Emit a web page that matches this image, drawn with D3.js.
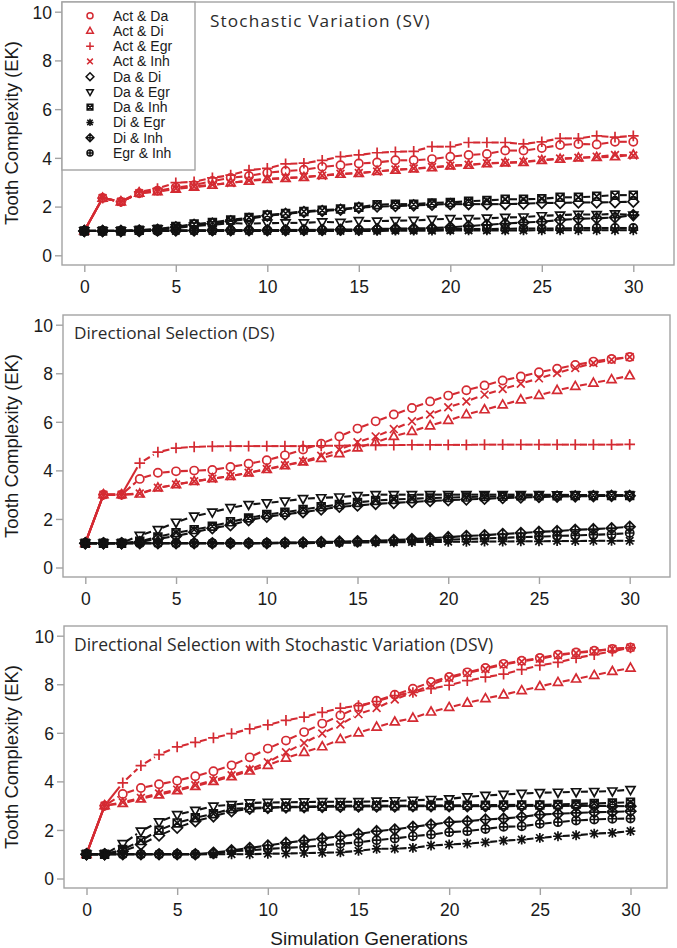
<!DOCTYPE html>
<html><head><meta charset="utf-8">
<script src="https://cdn.jsdelivr.net/npm/d3@7"></script>
<style>html,body{margin:0;padding:0;background:#fff;} svg{display:block;}</style>
</head><body>
<svg id="chart" width="677" height="948"></svg>
<script>
// ---------------- DATA ----------------
const generations = [0,1,2,3,4,5,6,7,8,9,10,11,12,13,14,15,16,17,18,19,20,21,22,23,24,25,26,27,28,29,30];
const seriesNames = ["Act & Da","Act & Di","Act & Egr","Act & Inh","Da & Di","Da & Egr","Da & Inh","Di & Egr","Di & Inh","Egr & Inh"];
const seriesSymbols = ["circle","triangle","plus","cross","diamond","triangleDown","squareX","asterisk","diamondPlus","circlePlus"];
const seriesGroup = ["red","red","red","red","black","black","black","black","black","black"];
const panelTitles = ["Stochastic Variation (SV)","Directional Selection (DS)","Directional Selection with Stochastic Variation (DSV)"];
const xTicks = [0,5,10,15,20,25,30];
const yTicks = [0,2,4,6,8,10];
const yAxisTitle = "Tooth Complexity (EK)";
const xAxisTitle = "Simulation Generations";

// Stochastic Variation (SV)
const sv_ActDa  = [1,2.35,2.2,2.55,2.65,2.78,2.88,3.05,3.18,3.26,3.39,3.46,3.51,3.63,3.70,3.77,3.81,3.9,3.9,3.95,4.05,4.12,4.16,4.3,4.3,4.4,4.53,4.57,4.55,4.66,4.66];
const sv_ActDi  = [1,2.35,2.2,2.55,2.62,2.72,2.8,2.88,2.98,3.05,3.12,3.16,3.2,3.28,3.33,3.37,3.45,3.5,3.55,3.6,3.67,3.7,3.77,3.8,3.82,3.9,3.95,4.0,4.02,4.05,4.12];
const sv_ActEgr = [1,2.35,2.2,2.6,2.74,2.98,3.02,3.18,3.29,3.5,3.57,3.75,3.78,3.9,4.05,4.12,4.21,4.25,4.27,4.46,4.46,4.63,4.63,4.63,4.57,4.66,4.8,4.8,4.9,4.85,4.9];
const sv_ActInh = [1,2.35,2.2,2.55,2.63,2.74,2.82,2.9,2.97,3.07,3.14,3.18,3.22,3.27,3.35,3.38,3.44,3.52,3.56,3.62,3.68,3.72,3.78,3.8,3.84,3.92,3.97,4.0,4.05,4.12,4.1];
const sv_DaDi   = [1,1,1,1.02,1.05,1.15,1.25,1.3,1.4,1.5,1.62,1.7,1.78,1.82,1.87,1.95,2.0,2.02,2.05,2.08,2.1,2.1,2.1,2.1,2.12,2.15,2.15,2.17,2.17,2.18,2.2];
const sv_DaEgr  = [1,1,1,1.03,1.08,1.12,1.2,1.25,1.32,1.3,1.32,1.33,1.33,1.37,1.35,1.42,1.4,1.42,1.43,1.47,1.5,1.5,1.52,1.55,1.57,1.62,1.65,1.68,1.67,1.7,1.65];
const sv_DaInh  = [1,1,1,1.03,1.07,1.18,1.28,1.35,1.45,1.55,1.65,1.72,1.8,1.85,1.9,1.97,2.08,2.1,2.1,2.15,2.17,2.22,2.25,2.3,2.3,2.32,2.38,2.38,2.42,2.47,2.47];
const sv_DiEgr  = [1,1,1,1,1,1,1,1,1,1,1,1,1,1,1,1,1,1.01,1.01,1.01,1.02,1.02,1.02,1.02,1.02,1.03,1.03,1.03,1.03,1.03,1.03];
const sv_DiInh  = [1,1,1,1,1.02,1.02,1.02,1.03,1.03,1.03,1.03,1.03,1.04,1.04,1.05,1.05,1.08,1.1,1.1,1.12,1.15,1.2,1.25,1.3,1.35,1.38,1.45,1.5,1.52,1.55,1.65];
const sv_EgrInh = [1,1,1,1,1,1.02,1.02,1.02,1.03,1.03,1.03,1.04,1.04,1.04,1.05,1.05,1.05,1.06,1.06,1.07,1.07,1.08,1.08,1.09,1.1,1.1,1.1,1.12,1.12,1.12,1.12];

// Directional Selection (DS)
const ds_ActDa  = [1,3,3,3.65,3.9,3.96,3.99,4.02,4.14,4.27,4.42,4.62,4.86,5.1,5.4,5.72,6.02,6.3,6.57,6.84,7.08,7.3,7.5,7.7,7.87,8.04,8.19,8.34,8.48,8.59,8.67];
const ds_ActDi  = [1,3,3,3.03,3.28,3.42,3.55,3.66,3.76,3.9,4.04,4.2,4.35,4.5,4.69,4.93,5.16,5.4,5.61,5.84,6.06,6.3,6.5,6.7,6.91,7.09,7.3,7.46,7.6,7.74,7.9];
const ds_ActEgr = [1,3,3,4.3,4.75,4.92,4.97,4.99,5.0,5.0,5.0,5.0,5.0,5.01,5.02,5.03,5.04,5.04,5.05,5.05,5.05,5.05,5.06,5.06,5.06,5.06,5.06,5.06,5.06,5.06,5.07];
const ds_ActInh = [1,3,3,3.05,3.28,3.42,3.55,3.66,3.76,3.9,4.06,4.21,4.37,4.6,4.85,5.16,5.4,5.7,6.02,6.3,6.6,6.84,7.12,7.35,7.57,7.79,8.01,8.22,8.42,8.56,8.67];
const ds_DaDi   = [1,1,1,1.05,1.18,1.3,1.45,1.62,1.74,1.95,2.09,2.19,2.28,2.39,2.5,2.55,2.62,2.66,2.7,2.74,2.77,2.8,2.83,2.86,2.88,2.9,2.92,2.93,2.94,2.95,2.95];
const ds_DaEgr  = [1,1,1,1.32,1.56,1.86,2.11,2.28,2.46,2.59,2.66,2.73,2.83,2.87,2.9,2.96,3.0,3.0,3.0,3.0,3.0,3.0,3.0,3.0,3.0,3.0,2.99,2.99,2.98,2.98,2.98];
const ds_DaInh  = [1,1,1,1.08,1.26,1.43,1.56,1.7,1.88,2.04,2.18,2.28,2.39,2.5,2.59,2.68,2.76,2.8,2.83,2.86,2.88,2.9,2.92,2.93,2.95,2.96,2.96,2.97,2.97,2.97,2.97];
const ds_DiEgr  = [1,1,1,1,1,1,1,1,1,1,1,1,1,1.01,1.02,1.03,1.04,1.04,1.05,1.05,1.06,1.06,1.07,1.07,1.08,1.08,1.09,1.09,1.1,1.1,1.1];
const ds_DiInh  = [1,1,1,1,1,1,1,1,1,1,1,1.02,1.03,1.05,1.07,1.08,1.1,1.13,1.17,1.2,1.25,1.3,1.33,1.38,1.42,1.47,1.5,1.55,1.58,1.62,1.68];
const ds_EgrInh = [1,1,1,1,1,1,1,1,1,1,1.01,1.02,1.02,1.03,1.04,1.05,1.07,1.08,1.1,1.12,1.15,1.17,1.2,1.22,1.25,1.27,1.3,1.32,1.35,1.37,1.42];

// Directional Selection with Stochastic Variation (DSV)
const dsv_ActDa  = [1,3,3.48,3.73,3.88,4.03,4.21,4.42,4.66,4.99,5.35,5.68,6.03,6.38,6.72,7.06,7.32,7.57,7.82,8.09,8.3,8.49,8.67,8.84,8.97,9.08,9.22,9.31,9.38,9.45,9.51];
const dsv_ActDi  = [1,3,3.1,3.28,3.45,3.62,3.8,4.0,4.2,4.43,4.66,4.96,5.2,5.43,5.73,6.0,6.24,6.45,6.61,6.86,7.05,7.23,7.41,7.57,7.74,7.91,8.08,8.22,8.37,8.53,8.67];
const dsv_ActEgr = [1,3,3.94,4.65,5.1,5.42,5.61,5.79,5.97,6.16,6.33,6.51,6.65,6.84,7.02,7.12,7.29,7.53,7.66,7.82,7.96,8.15,8.29,8.42,8.6,8.78,8.9,9.08,9.22,9.36,9.5];
const dsv_ActInh = [1,3,3.14,3.32,3.5,3.66,3.84,4.05,4.25,4.49,4.79,5.2,5.58,5.97,6.34,6.77,7.02,7.37,7.66,7.98,8.26,8.46,8.63,8.81,8.94,9.05,9.19,9.29,9.36,9.45,9.51];
const dsv_DaDi   = [1,1,1.12,1.4,1.77,2.09,2.36,2.56,2.77,2.87,2.91,2.93,2.94,2.95,2.96,2.97,2.97,2.97,2.98,2.98,2.98,2.98,2.98,2.98,2.99,2.99,2.99,2.99,2.99,2.98,2.98];
const dsv_DaEgr  = [1,1,1.43,1.95,2.33,2.63,2.8,2.98,3.04,3.11,3.13,3.14,3.15,3.16,3.16,3.16,3.18,3.2,3.22,3.25,3.28,3.36,3.42,3.46,3.5,3.53,3.55,3.57,3.58,3.6,3.66];
const dsv_DaInh  = [1,1,1.19,1.56,1.99,2.29,2.5,2.67,2.87,2.91,2.93,2.95,2.96,2.98,3.0,3.0,3.0,3.0,3.0,3.01,3.01,3.02,3.02,3.03,3.03,3.03,3.05,3.07,3.09,3.11,3.14];
const dsv_DiEgr  = [1,1,1,1,1,1,1,1,1,1,1.02,1.03,1.05,1.06,1.08,1.14,1.22,1.23,1.26,1.36,1.4,1.44,1.49,1.56,1.6,1.67,1.74,1.78,1.85,1.88,1.95];
const dsv_DiInh  = [1,1,1,1,1,1,1,1.06,1.16,1.26,1.36,1.47,1.56,1.65,1.74,1.83,1.95,2.02,2.13,2.22,2.32,2.36,2.43,2.47,2.54,2.63,2.67,2.7,2.73,2.74,2.77];
const dsv_EgrInh = [1,1,1,1,1,1,1,1.02,1.12,1.16,1.22,1.26,1.3,1.36,1.43,1.49,1.58,1.65,1.74,1.81,1.91,1.95,2.04,2.13,2.15,2.25,2.32,2.39,2.43,2.46,2.47];

const panelSeries = [
  [sv_ActDa, sv_ActDi, sv_ActEgr, sv_ActInh, sv_DaDi, sv_DaEgr, sv_DaInh, sv_DiEgr, sv_DiInh, sv_EgrInh],
  [ds_ActDa, ds_ActDi, ds_ActEgr, ds_ActInh, ds_DaDi, ds_DaEgr, ds_DaInh, ds_DiEgr, ds_DiInh, ds_EgrInh],
  [dsv_ActDa, dsv_ActDi, dsv_ActEgr, dsv_ActInh, dsv_DaDi, dsv_DaEgr, dsv_DaInh, dsv_DiEgr, dsv_DiInh, dsv_EgrInh]
];

// ---------------- LAYOUT / STYLE ----------------
const layouts = [
  {box:[62,2,674,265],  x0:84.3, x30:633.3, y0:255.3, y10:11.7, titleX:210, titleY:27,    titleSize:17.2, titleSpacing:1.15, yTitleY:133},
  {box:[63,315,670,577],x0:85.3, x30:629.7, y0:567.5, y10:324.7, titleX:74, titleY:338.5, titleSize:17.2, titleSpacing:0,    yTitleY:446},
  {box:[64,626,667,888],x0:86.5, x30:630.5, y0:878.5, y10:635.7, titleX:74, titleY:651,   titleSize:17.5, titleSpacing:0,    yTitleY:757}
];
const colors = {red:"#d42a32", black:"#111111"};
const frameColor = "#a3a3a3";
const tickFont = "'Liberation Sans', Arial, sans-serif";
const titleFont = "'Open Sans', 'Noto Sans', sans-serif";

function symbolPath(type, s) {
  const c = (r) => `M${-r},0A${r},${r} 0 1,0 ${r},0A${r},${r} 0 1,0 ${-r},0Z`;
  const dia = (r) => `M0,${-r}L${r},0L0,${r}L${-r},0Z`;
  const plus = (r) => `M${-r},0H${r}M0,${-r}V${r}`;
  const cross = (r) => `M${-r},${-r}L${r},${r}M${-r},${r}L${r},${-r}`;
  switch (type) {
    case "circle": return c(s);
    case "triangle": return `M0,${-s*1.2}L${s*1.1},${s*0.75}L${-s*1.1},${s*0.75}Z`;
    case "triangleDown": return `M0,${s*1.2}L${s*1.1},${-s*0.75}L${-s*1.1},${-s*0.75}Z`;
    case "plus": return plus(s*1.3);
    case "cross": return cross(s*0.95);
    case "diamond": return dia(s*1.3);
    case "squareX": return `M${-s*0.95},${-s*0.95}H${s*0.95}V${s*0.95}H${-s*0.95}Z` + cross(s*0.95);
    case "asterisk": return plus(s*1.2) + cross(s*0.9);
    case "diamondPlus": return dia(s*1.3) + plus(s*1.3);
    case "circlePlus": return c(s) + plus(s);
  }
}

const svg = d3.select("#chart");
svg.append("rect").attr("width",677).attr("height",948).attr("fill","#fff");

layouts.forEach((L, pi) => {
  const g = svg.append("g");
  const x = d3.scaleLinear().domain([0,30]).range([L.x0, L.x30]);
  const y = d3.scaleLinear().domain([0,10]).range([L.y0, L.y10]);
  const [bx0, by0, bx1, by1] = L.box;

  const xAxis = d3.axisBottom(x).tickValues(xTicks).tickSize(7).tickPadding(5).tickSizeOuter(0);
  const gx = g.append("g").attr("transform",`translate(0,${by1})`).call(xAxis);
  const yAxis = d3.axisLeft(y).tickValues(yTicks).tickSize(7).tickPadding(3).tickSizeOuter(0);
  const gy = g.append("g").attr("transform",`translate(${bx0},0)`).call(yAxis);
  [gx, gy].forEach(a => {
    a.select(".domain").remove();
    a.selectAll(".tick line").attr("stroke", frameColor).attr("stroke-width",1.4);
    a.selectAll(".tick text").attr("font-family", tickFont).attr("font-size", 17.5).attr("fill","#1a1a1a");
  });
  gx.selectAll(".tick text").attr("y", 28).attr("dy","0");
  gy.selectAll(".tick text").attr("dy","0.36em");

  g.append("rect").attr("x",bx0).attr("y",by0).attr("width",bx1-bx0).attr("height",by1-by0)
    .attr("fill","none").attr("stroke",frameColor).attr("stroke-width",1.4);

  const data = panelSeries[pi];
  const gap = 4.8;
  data.forEach((vals, si) => {
    const col = colors[seriesGroup[si]];
    const sg = g.append("g");
    const pts = generations.map((gen, i) => [x(gen), y(vals[i])]);
    for (let i = 0; i < pts.length - 1; i++) {
      const [ax, ay] = pts[i], [bx, by] = pts[i+1];
      const dx = bx - ax, dy = by - ay, len = Math.hypot(dx, dy);
      if (len <= 2*gap) continue;
      const ux = dx/len, uy = dy/len;
      const steep = Math.abs(dy) > Math.abs(dx);
      sg.append("line")
        .attr("x1", ax + ux*gap).attr("y1", ay + uy*gap)
        .attr("x2", bx - ux*gap).attr("y2", by - uy*gap)
        .attr("stroke", col).attr("stroke-width", 2.1)
        .attr("stroke-dasharray", steep ? null : "7,3.5");
    }
    sg.selectAll("path.pt").data(pts).join("path").attr("class","pt")
      .attr("transform", d => `translate(${d[0]},${d[1]})`)
      .attr("d", symbolPath(seriesSymbols[si], 4.1))
      .attr("fill","none").attr("stroke", col).attr("stroke-width", 1.7);
  });

  g.append("text").attr("x", L.titleX).attr("y", L.titleY).text(panelTitles[pi])
    .attr("font-family", titleFont).attr("font-size", L.titleSize)
    .attr("letter-spacing", L.titleSpacing).attr("fill","#2b2b2b");

  g.append("text").attr("transform", `translate(18,${L.yTitleY}) rotate(-90)`)
    .attr("text-anchor","middle").text(yAxisTitle)
    .attr("font-family", tickFont).attr("font-size", 18.5).attr("fill","#1a1a1a");
});

svg.append("text").attr("x", 369).attr("y", 945).attr("text-anchor","middle").text(xAxisTitle)
  .attr("font-family", tickFont).attr("font-size", 19).attr("fill","#1a1a1a");

const lg = svg.append("g");
lg.append("rect").attr("x",62).attr("y",2).attr("width",133).attr("height",168)
  .attr("fill","#fff").attr("stroke",frameColor).attr("stroke-width",1.4);
seriesNames.forEach((name, i) => {
  const ly = 15.7 + i*15.25;
  lg.append("path").attr("transform",`translate(90,${ly})`)
    .attr("d", symbolPath(seriesSymbols[i], 3.0))
    .attr("fill","none").attr("stroke", colors[seriesGroup[i]]).attr("stroke-width",1.5);
  lg.append("text").attr("x",113).attr("y",ly).attr("dy","0.36em").text(name)
    .attr("font-family", tickFont).attr("font-size", 14).attr("fill","#1a1a1a");
});
</script>
</body></html>
